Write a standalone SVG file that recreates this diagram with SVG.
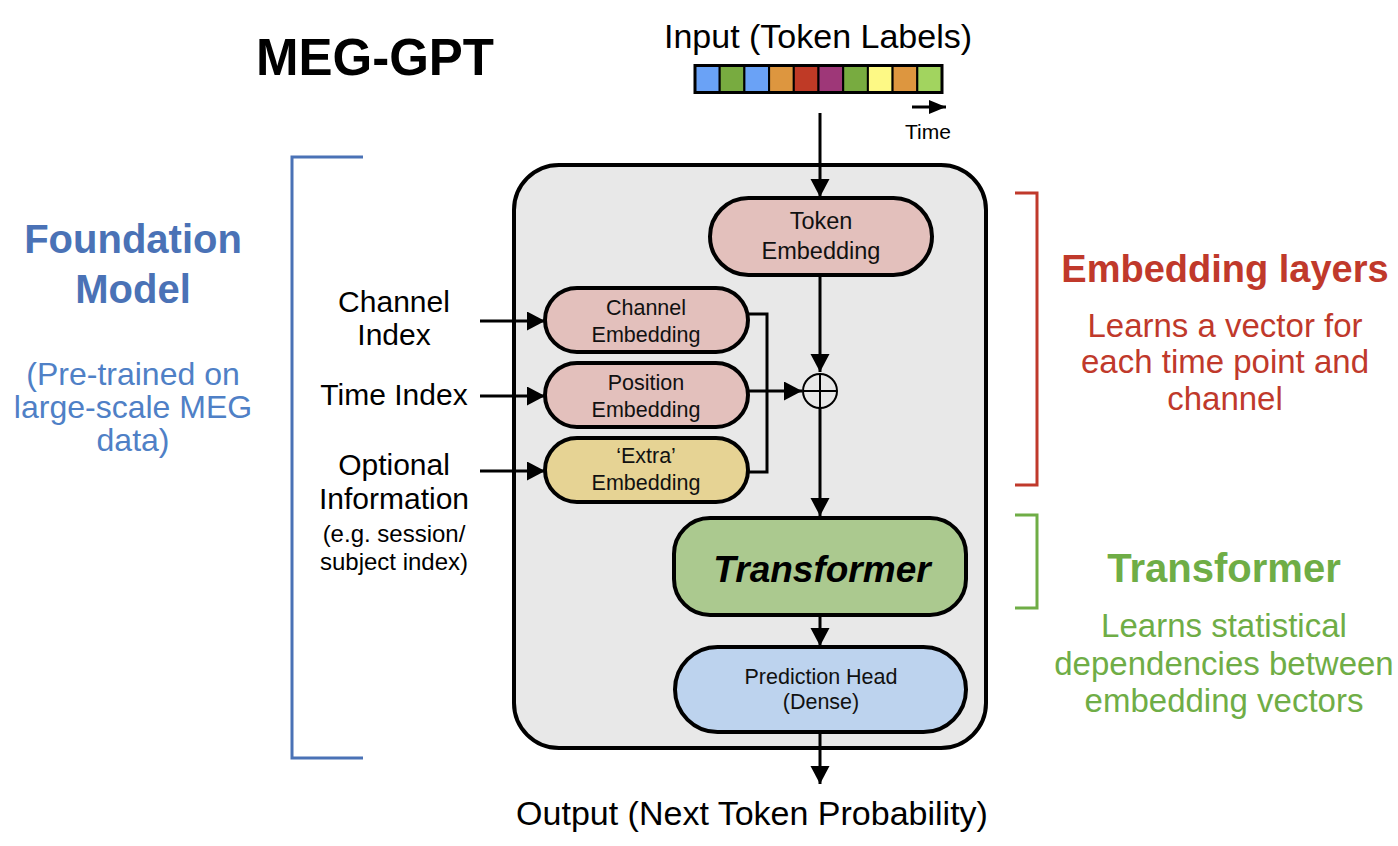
<svg xmlns="http://www.w3.org/2000/svg" width="1398" height="846" viewBox="0 0 1398 846">
  <defs>
    <marker id="arrow" markerUnits="userSpaceOnUse" markerWidth="20" markerHeight="20" refX="18" refY="9.5" orient="auto">
      <path d="M0,0 L18,9.5 L0,19 Z" fill="#000"/>
    </marker>
    <marker id="arrow-sm" markerUnits="userSpaceOnUse" markerWidth="17" markerHeight="14" refX="17" refY="7" orient="auto">
      <path d="M0,0 L17,7 L0,14 Z" fill="#000"/>
    </marker>
    <style>
      text { font-family: "Liberation Sans", Arial, Helvetica, sans-serif; text-anchor: middle; }
      .title { font-size: 51px; font-weight: bold; fill: #000; }
      .io { font-size: 34px; fill: #000; }
      .lbl { font-size: 30px; fill: #000; }
      .lbl-sm { font-size: 24px; fill: #000; }
      .node { stroke: #000; stroke-width: 4; }
      .emb { fill: #e3c0bc; }
      .extra { fill: #e6d394; }
      .tf { fill: #abc98f; }
      .head { fill: #bdd3ee; }
      .ntext { font-size: 21.5px; fill: #111; }
      .wire { stroke: #000; stroke-width: 3; fill: none; }
      .blue-h { font-size: 40px; font-weight: bold; fill: #4a72b6; }
      .blue-s { font-size: 32px; fill: #4f80c6; }
      .red-h { font-size: 38px; font-weight: bold; fill: #c0392b; }
      .red-s { font-size: 33px; fill: #c0392b; }
      .green-h { font-size: 40px; font-weight: bold; fill: #6fad46; }
      .green-s { font-size: 33px; fill: #6fad46; }
    </style>
  </defs>

  <rect width="1398" height="846" fill="#fff"/>

  <!-- title -->
  <text class="title" x="375" y="75">MEG-GPT</text>

  <!-- input token sequence -->
  <g id="input">
    <text class="io" x="818" y="48">Input (Token Labels)</text>
    <g stroke="#000" stroke-width="2">
      <rect x="695.0" y="66" width="24.7" height="26" fill="#6aa2f6"/>
      <rect x="719.7" y="66" width="24.7" height="26" fill="#78ab40"/>
      <rect x="744.4" y="66" width="24.7" height="26" fill="#6aa2f6"/>
      <rect x="769.1" y="66" width="24.7" height="26" fill="#dd963f"/>
      <rect x="793.8" y="66" width="24.7" height="26" fill="#bf3a26"/>
      <rect x="818.5" y="66" width="24.7" height="26" fill="#9e3778"/>
      <rect x="843.2" y="66" width="24.7" height="26" fill="#78ab40"/>
      <rect x="867.9" y="66" width="24.7" height="26" fill="#fdf985"/>
      <rect x="892.6" y="66" width="24.7" height="26" fill="#dd963f"/>
      <rect x="917.3" y="66" width="24.7" height="26" fill="#a2d45f"/>
    </g>
    <rect x="695" y="65.5" width="247" height="27" fill="none" stroke="#000" stroke-width="3"/>
    <line x1="912" y1="107" x2="946" y2="107" stroke="#000" stroke-width="3" marker-end="url(#arrow-sm)"/>
    <text x="928" y="139" font-size="21">Time</text>
  </g>

  <!-- model container -->
  <g id="container">
    <rect x="514" y="165" width="472" height="583" rx="45" fill="#e8e8e8" stroke="#000" stroke-width="4"/>
  </g>

  <!-- connectors -->
  <g id="connectors">
    <line class="wire" x1="820" y1="113" x2="820" y2="197" marker-end="url(#arrow)"/>
    <line class="wire" x1="820" y1="275" x2="820" y2="372" marker-end="url(#arrow)"/>
    <line class="wire" x1="820" y1="407" x2="820" y2="516" marker-end="url(#arrow)"/>
    <line class="wire" x1="820" y1="615" x2="820" y2="646" marker-end="url(#arrow)"/>
    <line class="wire" x1="820" y1="732" x2="820" y2="784" marker-end="url(#arrow)"/>
    <polyline class="wire" points="748,314 767,314 767,472 748,472"/>
    <line class="wire" x1="748" y1="391" x2="802" y2="391" marker-end="url(#arrow)"/>
    <line class="wire" x1="480" y1="321" x2="545" y2="321" marker-end="url(#arrow)"/>
    <line class="wire" x1="480" y1="396" x2="545" y2="396" marker-end="url(#arrow)"/>
    <line class="wire" x1="480" y1="471" x2="545" y2="471" marker-end="url(#arrow)"/>
  </g>

  <!-- summation node -->
  <g id="sum">
    <circle cx="820" cy="391" r="17" fill="#e8e8e8" stroke="#000" stroke-width="2"/>
    <line x1="803" y1="391" x2="837" y2="391" stroke="#000" stroke-width="2"/>
    <line x1="820" y1="374" x2="820" y2="408" stroke="#000" stroke-width="2"/>
  </g>

  <g id="token-embedding">
    <rect class="node emb" x="710" y="198" width="222" height="77" rx="38.5"/>
    <text x="821" y="229" font-size="23.5" fill="#111">Token</text>
    <text x="821" y="259" font-size="23.5" fill="#111">Embedding</text>
  </g>

  <g id="channel-embedding">
    <rect class="node emb" x="545" y="288" width="203" height="64" rx="32"/>
    <text class="ntext" x="646" y="315">Channel</text>
    <text class="ntext" x="646" y="342">Embedding</text>
  </g>

  <g id="position-embedding">
    <rect class="node emb" x="545" y="363" width="203" height="64" rx="32"/>
    <text class="ntext" x="646" y="390">Position</text>
    <text class="ntext" x="646" y="417">Embedding</text>
  </g>

  <g id="extra-embedding">
    <rect class="node extra" x="545" y="438" width="203" height="64" rx="32"/>
    <text class="ntext" x="646" y="463">‘Extra’</text>
    <text class="ntext" x="646" y="490">Embedding</text>
  </g>

  <g id="transformer">
    <rect class="node tf" x="674" y="518" width="292" height="97" rx="36"/>
    <text x="822" y="582" font-size="37" font-weight="bold" font-style="italic" fill="#000">Transformer</text>
  </g>

  <g id="prediction-head">
    <rect class="node head" x="675" y="647" width="291" height="85" rx="42.5"/>
    <text class="ntext" x="821" y="684">Prediction Head</text>
    <text class="ntext" x="821" y="709">(Dense)</text>
  </g>

  <!-- output -->
  <g id="output">
    <text class="io" x="752" y="825">Output (Next Token Probability)</text>
  </g>

  <!-- side inputs -->
  <g id="side-inputs">
    <text class="lbl" x="394" y="312">Channel</text>
    <text class="lbl" x="394" y="345">Index</text>
    <text class="lbl" x="394" y="405">Time Index</text>
    <text class="lbl" x="394" y="475">Optional</text>
    <text class="lbl" x="394" y="509">Information</text>
    <text class="lbl-sm" x="394" y="542">(e.g. session/</text>
    <text class="lbl-sm" x="394" y="570">subject index)</text>
  </g>

  <!-- foundation model annotation -->
  <g id="foundation">
    <polyline points="363,157 292,157 292,758 363,758" fill="none" stroke="#4a72b6" stroke-width="3"/>
    <text class="blue-h" x="133" y="253">Foundation</text>
    <text class="blue-h" x="133" y="303">Model</text>
    <text class="blue-s" x="133" y="385">(Pre-trained on</text>
    <text class="blue-s" x="133" y="418">large-scale MEG</text>
    <text class="blue-s" x="133" y="451">data)</text>
  </g>

  <!-- embedding layers annotation -->
  <g id="embedding-note">
    <polyline points="1015,193 1037,193 1037,485 1015,485" fill="none" stroke="#c0392b" stroke-width="3"/>
    <text class="red-h" x="1225" y="282">Embedding layers</text>
    <text class="red-s" x="1225" y="337">Learns a vector for</text>
    <text class="red-s" x="1225" y="373">each time point and</text>
    <text class="red-s" x="1225" y="410">channel</text>
  </g>

  <!-- transformer annotation -->
  <g id="transformer-note">
    <polyline points="1015,515 1037,515 1037,608 1015,608" fill="none" stroke="#6fad46" stroke-width="3"/>
    <text class="green-h" x="1224" y="582">Transformer</text>
    <text class="green-s" x="1224" y="637">Learns statistical</text>
    <text class="green-s" x="1224" y="675">dependencies between</text>
    <text class="green-s" x="1224" y="712">embedding vectors</text>
  </g>
</svg>
